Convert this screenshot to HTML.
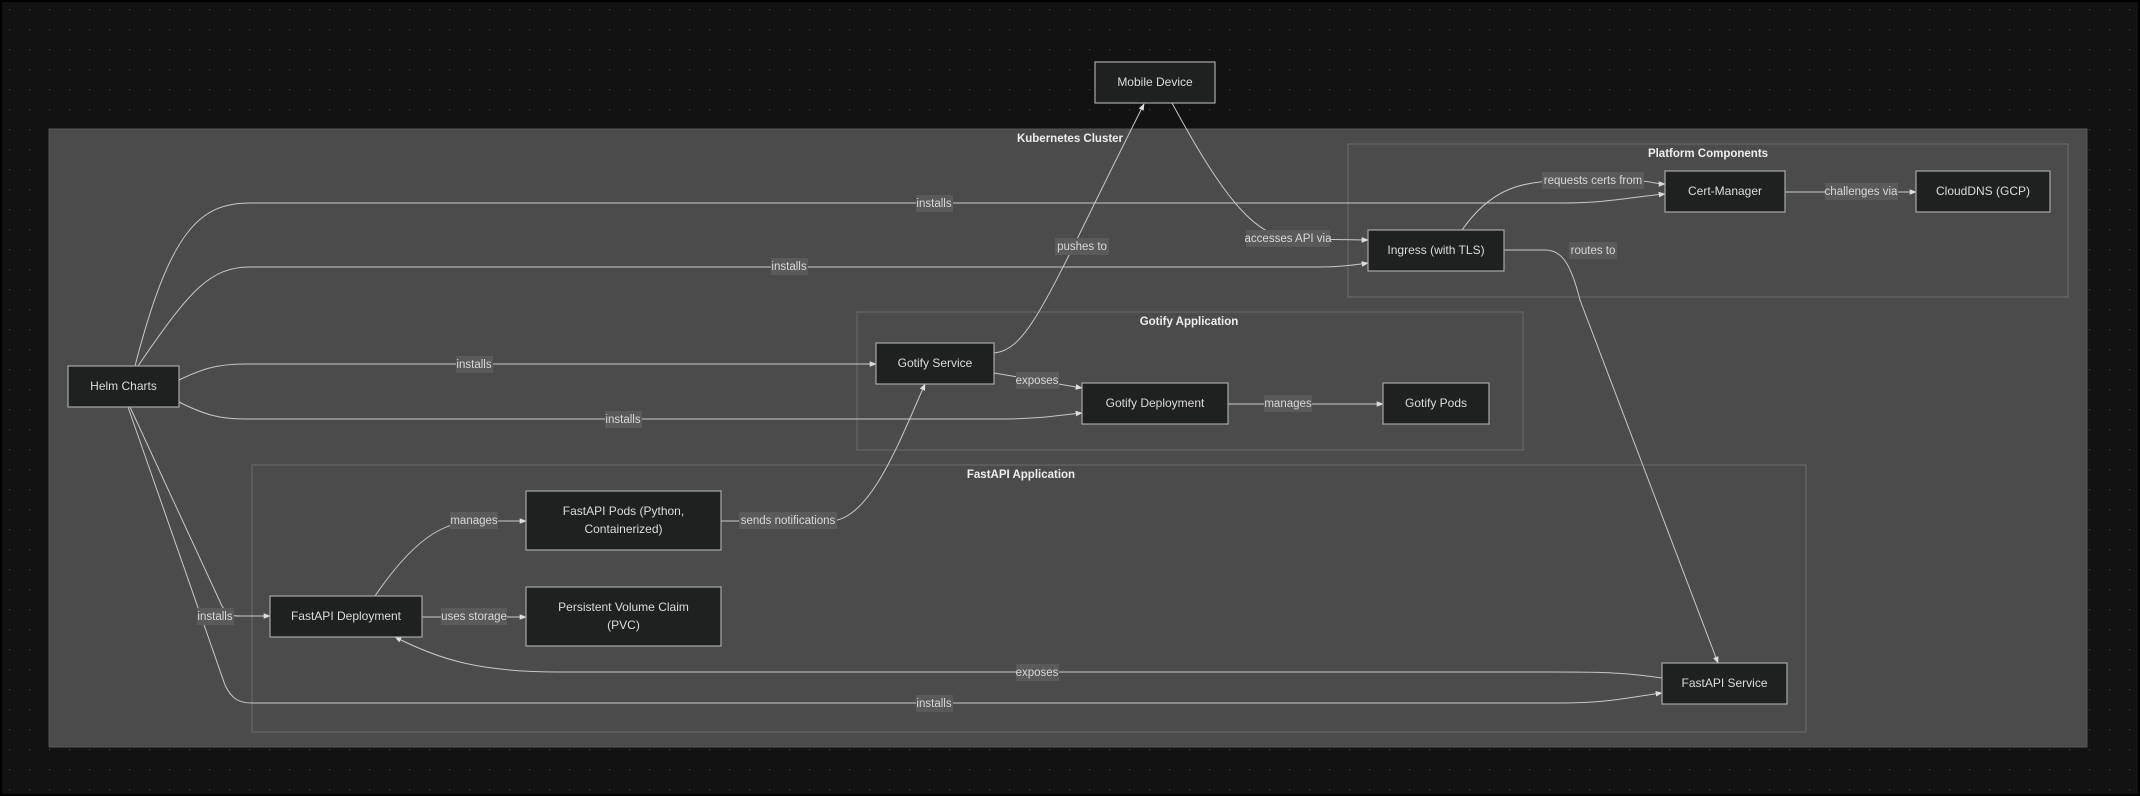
<!DOCTYPE html>
<html><head><meta charset="utf-8"><style>
html,body{margin:0;padding:0;background:#111;}
svg{display:block}
text{font-family:"Liberation Sans",sans-serif;}
.n{fill:#1f2020;stroke:#a8a8a8;stroke-width:1.2}
.nt{fill:#dcdcdc;font-size:12px;text-anchor:middle;dominant-baseline:middle}
.e{fill:none;stroke:#c8c8c8;stroke-width:1}
.lb{fill:#5a5a5a}
.lt{fill:#d8d8d8;font-size:11.5px;text-anchor:middle;dominant-baseline:middle}
.g{fill:none;stroke:#666;stroke-width:1.2}
.gt{fill:#eee;font-size:11.5px;font-weight:bold;text-anchor:middle;dominant-baseline:middle}
</style></head><body>
<svg width="2140" height="796" viewBox="0 0 2140 796" xmlns="http://www.w3.org/2000/svg">
<defs>
<pattern id="dots" width="20" height="20" patternUnits="userSpaceOnUse"><rect x="9" y="9" width="1.2" height="1.2" fill="#444"/></pattern>
<marker id="a" viewBox="0 0 10 10" refX="9" refY="5" markerWidth="7" markerHeight="7" orient="auto"><path d="M0,1 L10,5 L0,9 z" fill="#ddd"/></marker>
</defs>
<rect x="0" y="0" width="2140" height="796" fill="#000"/>
<rect x="2" y="2" width="2136" height="792" fill="#121212"/>
<rect x="2" y="2" width="2136" height="792" fill="url(#dots)"/>
<rect x="49" y="129" width="2038" height="618" fill="#4a4b4a" stroke="#555" stroke-width="1"/>
<text class="gt" x="1070" y="139">Kubernetes Cluster</text>
<rect class="g" x="1348" y="144" width="720" height="153"/>
<text class="gt" x="1708" y="154">Platform Components</text>
<rect class="g" x="857" y="312" width="666" height="138"/>
<text class="gt" x="1189" y="322">Gotify Application</text>
<rect class="g" x="252" y="465" width="1554" height="267"/>
<text class="gt" x="1021" y="475">FastAPI Application</text>

<path class="e" marker-end="url(#a)" d="M135,366 C170,230 200,203 250,203 L1560,203 C1610,203 1630,197 1665,194"/>
<path class="e" marker-end="url(#a)" d="M138,366 C190,290 210,267 250,267 L1320,267 C1340,267 1355,265 1368,263"/>
<path class="e" marker-end="url(#a)" d="M179,380 C200,370 215,364 245,364 L876,364"/>
<path class="e" marker-end="url(#a)" d="M179,402 C205,415 220,419 245,419 L1000,419 C1040,419 1060,415 1082,413"/>
<path class="e" marker-end="url(#a)" d="M130,407 L222,606 C228,616 232,616 240,616 L270,616"/>
<path class="e" marker-end="url(#a)" d="M128,407 L225,685 C232,700 240,703 252,703 L1560,703 C1610,703 1630,697 1662,693"/>
<path class="e" marker-end="url(#a)" d="M994,353 C1030,350 1050,290 1144,104"/>
<path class="e" marker-end="url(#a)" d="M1172,103 C1230,210 1260,240 1300,239 L1368,240"/>
<path class="e" marker-end="url(#a)" d="M1462,230 C1490,190 1520,181 1560,181 L1640,181 C1650,181 1655,184 1665,184"/>
<path class="e" marker-end="url(#a)" d="M1785,192 L1916,192"/>
<path class="e" marker-end="url(#a)" d="M1504,250 L1545,250 C1560,250 1570,260 1580,300 L1718,663"/>
<path class="e" marker-end="url(#a)" d="M994,373 L1082,388"/>
<path class="e" marker-end="url(#a)" d="M1228,404 L1383,404"/>
<path class="e" marker-end="url(#a)" d="M375,596 C420,530 450,521 480,521 L526,521"/>
<path class="e" marker-end="url(#a)" d="M422,617 L526,617"/>
<path class="e" marker-end="url(#a)" d="M721,521 L830,521 C870,521 900,440 925,384"/>
<path class="e" marker-end="url(#a)" d="M1662,678 C1620,672 1600,672 1550,672 L560,672 C480,672 440,660 395,637"/>

<g>
<rect class="lb" x="916" y="195" width="37" height="17"/><text class="lt" x="934" y="204">installs</text>
<rect class="lb" x="771" y="258" width="37" height="17"/><text class="lt" x="789" y="267">installs</text>
<rect class="lb" x="456" y="356" width="37" height="17"/><text class="lt" x="474" y="365">installs</text>
<rect class="lb" x="605" y="411" width="37" height="17"/><text class="lt" x="623" y="420">installs</text>
<rect class="lb" x="197" y="608" width="37" height="17"/><text class="lt" x="215" y="617">installs</text>
<rect class="lb" x="916" y="695" width="37" height="17"/><text class="lt" x="934" y="704">installs</text>
<rect class="lb" x="1055" y="238" width="54" height="17"/><text class="lt" x="1082" y="247">pushes to</text>
<rect class="lb" x="1246" y="230" width="84" height="17"/><text class="lt" x="1288" y="239">accesses API via</text>
<rect class="lb" x="1542" y="172" width="102" height="17"/><text class="lt" x="1593" y="181">requests certs from</text>
<rect class="lb" x="1825" y="183" width="73" height="17"/><text class="lt" x="1861" y="192">challenges via</text>
<rect class="lb" x="1569" y="242" width="48" height="17"/><text class="lt" x="1593" y="251">routes to</text>
<rect class="lb" x="1016" y="372" width="43" height="17"/><text class="lt" x="1037" y="381">exposes</text>
<rect class="lb" x="1264" y="395" width="48" height="17"/><text class="lt" x="1288" y="404">manages</text>
<rect class="lb" x="450" y="512" width="48" height="17"/><text class="lt" x="474" y="521">manages</text>
<rect class="lb" x="441" y="608" width="66" height="17"/><text class="lt" x="474" y="617">uses storage</text>
<rect class="lb" x="739" y="512" width="98" height="17"/><text class="lt" x="788" y="521">sends notifications</text>
<rect class="lb" x="1016" y="664" width="43" height="17"/><text class="lt" x="1037" y="673">exposes</text>
</g>

<rect class="n" x="68" y="366" width="111" height="41"/><text class="nt" x="123.5" y="387">Helm Charts</text>
<rect class="n" x="1095" y="62" width="120" height="41"/><text class="nt" x="1155" y="83">Mobile Device</text>
<rect class="n" x="1665" y="171" width="120" height="41"/><text class="nt" x="1725" y="192">Cert-Manager</text>
<rect class="n" x="1916" y="171" width="134" height="41"/><text class="nt" x="1983" y="192">CloudDNS (GCP)</text>
<rect class="n" x="1368" y="230" width="136" height="41"/><text class="nt" x="1436" y="251">Ingress (with TLS)</text>
<rect class="n" x="876" y="343" width="118" height="41"/><text class="nt" x="935" y="364">Gotify Service</text>
<rect class="n" x="1082" y="383" width="146" height="41"/><text class="nt" x="1155" y="404">Gotify Deployment</text>
<rect class="n" x="1383" y="383" width="106" height="41"/><text class="nt" x="1436" y="404">Gotify Pods</text>
<rect class="n" x="526" y="491" width="195" height="59"/><text class="nt" x="623.5" y="512">FastAPI Pods (Python,</text><text class="nt" x="623.5" y="530">Containerized)</text>
<rect class="n" x="526" y="587" width="195" height="59"/><text class="nt" x="623.5" y="608">Persistent Volume Claim</text><text class="nt" x="623.5" y="626">(PVC)</text>
<rect class="n" x="270" y="596" width="152" height="41"/><text class="nt" x="346" y="617">FastAPI Deployment</text>
<rect class="n" x="1662" y="663" width="125" height="41"/><text class="nt" x="1724.5" y="684">FastAPI Service</text>
</svg>
</body></html>
